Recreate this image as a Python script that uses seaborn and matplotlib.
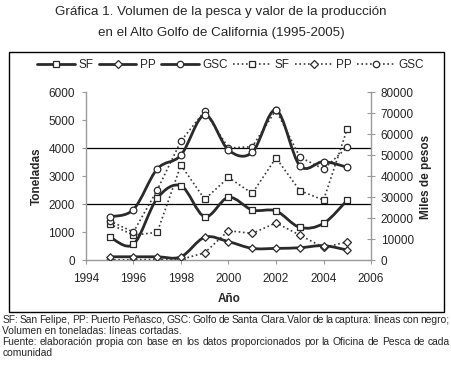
import numpy as np
import seaborn as sns
import matplotlib.pyplot as plt
from matplotlib.path import Path
from matplotlib.patches import PathPatch, Rectangle
from matplotlib.lines import Line2D

years = [1995, 1996, 1997, 1998, 1999, 2000, 2001, 2002, 2003, 2004, 2005]

# volumen (toneladas) - lineas cortadas, eje izquierdo
sf_ton = [1300, 900, 1000, 3400, 2180, 2960, 2390, 3660, 2490, 2150, 4700]
pp_ton = [20, 20, 35, 35, 270, 1060, 960, 1340, 900, 460, 660]
gsc_ton = [1410, 1010, 2510, 4260, 5330, 4010, 4060, 5370, 3690, 3260, 4040]

# valor (miles de pesos) - lineas con negro, eje derecho
sf_val = [11200, 7600, 29500, 35500, 20800, 30000, 24000, 23500, 15700, 17600, 28700]
pp_val = [1700, 1700, 1700, 1700, 11000, 8900, 5700, 5700, 6000, 7000, 4900]
gsc_val = [20800, 24200, 43500, 50100, 69200, 52500, 51400, 71600, 45100, 47000, 44300]

series_names = ['SF', 'PP', 'GSC']
markers = ['s', 'D', 'o']
msizes = [4.6, 3.6, 4.6]
grid_levels = [2000, 4000]

title_lines = ['Gráfica 1. Volumen de la pesca y valor de la producción',
               'en el Alto Golfo de California (1995-2005)']
note_lines = ['SF: San Felipe, PP: Puerto Peñasco, GSC: Golfo de Santa Clara.Valor de la captura: líneas con negro;',
              'Volumen en toneladas: líneas cortadas.',
              'Fuente: elaboración propia con base en los datos proporcionados por la Oficina de Pesca de cada',
              'comunidad']

sns.set_style('white')
plt.rcParams['font.family'] = ['Liberation Sans', 'DejaVu Sans']

dark = '#2a2a2a'
axis_gray = '#9a9a9a'


def smooth_path(x, y):
    # excel style smoothed line (catmull-rom as cubic bezier)
    pts = np.column_stack([x, y]).astype(float)
    n = len(pts)
    verts = [pts[0]]
    codes = [Path.MOVETO]
    for i in range(n - 1):
        p0 = pts[i - 1] if i > 0 else pts[i]
        p1, p2 = pts[i], pts[i + 1]
        p3 = pts[i + 2] if i + 2 < n else pts[i + 1]
        verts += [p1 + (p2 - p0) / 6, p2 - (p3 - p1) / 6, p2]
        codes += [Path.CURVE4] * 3
    return Path(verts, codes)


def justified(fig, line, x0, x1, y, **kw):
    words = line.split(' ')
    r = fig.canvas.get_renderer()
    W = fig.bbox.width
    texts = [fig.text(0, y, w, va='center', **kw) for w in words]
    widths = [t.get_window_extent(r).width for t in texts]
    gap = ((x1 - x0) * W - sum(widths)) / (len(words) - 1)
    pos = x0 * W
    for t, w in zip(texts, widths):
        t.set_x(pos / W)
        pos += w + gap


fig = plt.figure(figsize=(4.52, 3.73), dpi=100)
ax = fig.add_axes([0.190, 0.302, 0.631, 0.4505])
ax2 = ax.twinx()

for name, vals, m, ms in zip(series_names, [sf_ton, pp_ton, gsc_ton], markers, msizes):
    sns.lineplot(x=years, y=vals, ax=ax, color='#3a3a3a', linestyle=(0, (1, 1.6)), lw=1.2,
                 marker=m, markersize=ms, markerfacecolor='white', markeredgecolor=dark,
                 markeredgewidth=0.9, legend=False)

for name, vals, m, ms in zip(series_names, [sf_val, pp_val, gsc_val], markers, msizes):
    ax2.add_patch(PathPatch(smooth_path(years, vals), fill=False, lw=2.0, edgecolor=dark,
                            zorder=2))
    sns.scatterplot(x=years, y=vals, ax=ax2, marker=m, s=(ms * 1.05) ** 2, color='white',
                    edgecolor=dark, linewidth=0.9, zorder=3, legend=False)

for g in grid_levels:
    ax.axhline(g, color='black', lw=0.9, zorder=0)

ax.set_xlim(1994, 2006)
ax.set_xticks(range(1994, 2007, 2))
ax.set_ylim(0, 6000)
ax.set_yticks(range(0, 6001, 1000))
ax2.set_ylim(0, 80000)
ax2.set_yticks(range(0, 80001, 10000))

for a in (ax, ax2):
    for s in a.spines.values():
        s.set_visible(False)
    a.set_xlabel('')
    a.set_ylabel('')
ax.spines['left'].set_visible(True)
ax.spines['bottom'].set_visible(True)
ax2.spines['right'].set_visible(True)
for s in (ax.spines['left'], ax.spines['bottom'], ax2.spines['right']):
    s.set_color(axis_gray)
    s.set_linewidth(1.0)

ax.tick_params(axis='both', which='major', direction='out', length=3, width=0.8,
               color=axis_gray, labelsize=8.5, pad=5, bottom=True, left=True)
ax.tick_params(axis='x', pad=6)
ax2.tick_params(axis='y', direction='inout', length=6, width=0.8, color=axis_gray,
                labelsize=8.5, pad=4, right=True)

fig.text(0.082, 0.528, 'Toneladas', rotation=90, ha='center', va='center',
         fontsize=8.5, fontweight='bold')
fig.text(0.9425, 0.525, 'Miles de pesos', rotation=90, ha='center', va='center',
         fontsize=8.5, fontweight='bold')
fig.text(0.506, 0.198, 'Año', ha='center', va='center', fontsize=8.5, fontweight='bold')

fig.text(0.489, 0.967, title_lines[0], ha='center', va='center', fontsize=9.6)
fig.text(0.489, 0.912, title_lines[1], ha='center', va='center', fontsize=9.6)

fig.patches.append(Rectangle((0.021, 0.1643), 0.961, 0.6976, transform=fig.transFigure,
                             fill=False, edgecolor='black', lw=1.0))

handles = []
for m, ms in zip(markers, msizes):
    handles.append(Line2D([], [], color=dark, lw=2.0, marker=m, markersize=ms,
                          markerfacecolor='white', markeredgecolor=dark, markeredgewidth=0.9))
for m, ms in zip(markers, msizes):
    handles.append(Line2D([], [], color='#3a3a3a', lw=1.2, linestyle=(0, (1, 1.6)), marker=m,
                          markersize=ms, markerfacecolor='white', markeredgecolor=dark,
                          markeredgewidth=0.9))
fig.legend(handles, series_names + series_names, ncol=6, loc='center',
           bbox_to_anchor=(0.51, 0.8257), frameon=False, fontsize=8.5, handlelength=3.2,
           handletextpad=0.3, columnspacing=0.45, borderaxespad=0)

note_y = [320, 330.7, 342, 352.7]
note_size = 7.4
justified(fig, note_lines[0], 0.005, 0.995, 1 - note_y[0] / 373, fontsize=note_size)
fig.text(0.005, 1 - note_y[1] / 373, note_lines[1], va='center', fontsize=note_size)
justified(fig, note_lines[2], 0.005, 0.995, 1 - note_y[2] / 373, fontsize=note_size)
fig.text(0.005, 1 - note_y[3] / 373, note_lines[3], va='center', fontsize=note_size)

fig.savefig('out.png', dpi=100)
plt.close()
